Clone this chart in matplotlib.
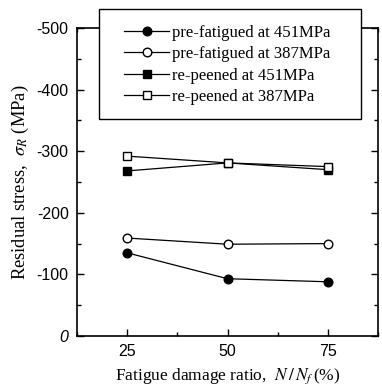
import matplotlib.pyplot as plt
from matplotlib.patches import Rectangle
from matplotlib.ticker import MultipleLocator

plt.rcParams['mathtext.fontset'] = 'stix'

# data
ratio = [25, 50, 75]
pf_451 = [-135, -93, -88]
pf_387 = [-159, -149, -150]
rp_451 = [-268, -281, -270]
rp_387 = [-292, -281, -275]

labels = ['pre-fatigued at 451MPa', 'pre-fatigued at 387MPa',
          're-peened at 451MPa', 're-peened at 387MPa']

fig = plt.figure(figsize=(3.82, 3.92), dpi=100)
ax = fig.add_axes([77 / 382, 1 - 336 / 392, 301 / 382, 308 / 392])

kw = dict(color='black', linewidth=0.9)
ax.plot(ratio, pf_451, marker='o', markersize=6.2, markerfacecolor='black', label=labels[0], **kw)
ax.plot(ratio, pf_387, marker='o', markersize=6.2, markerfacecolor='white', label=labels[1], **kw)
ax.plot(ratio, rp_451, marker='s', markersize=5.4, markerfacecolor='black', label=labels[2], **kw)
ax.plot(ratio, rp_387, marker='s', markersize=5.4, markerfacecolor='white', label=labels[3], **kw)

ax.set_xlim(12.5, 87.5)
ax.set_ylim(0, -500)
ax.set_xticks(ratio)
ax.set_yticks([0, -100, -200, -300, -400, -500])
ax.set_yticklabels(['0', '-100', '-200', '-300', '-400', '-500'])
ax.xaxis.set_minor_locator(MultipleLocator(12.5))
ax.yaxis.set_minor_locator(MultipleLocator(50))
ax.tick_params(which='both', direction='in', top=True, right=True, width=1)
ax.tick_params(which='major', length=5, labelsize=11.5, pad=6)
ax.tick_params(which='minor', length=3)
for lab in ax.get_xticklabels() + ax.get_yticklabels():
    lab.set_family('Liberation Sans')
ax.get_yticklabels()[0].set_style('italic')
for s in ax.spines.values():
    s.set_linewidth(1.2)

ax.set_xlabel('Fatigue damage ratio,  $N\\,/\\,N_f\\,$(%)', family='Liberation Serif',
              fontsize=12.5, labelpad=5)
ax.set_ylabel('Residual stress,  $\\sigma_R$ (MPa)', family='Liberation Serif',
              fontsize=13.3, labelpad=4)

# legend frame sits over the top spine
frame = Rectangle((99 / 382, 1 - 119 / 392), 262 / 382, 110 / 392,
                  transform=fig.transFigure, facecolor='white', edgecolor='black',
                  linewidth=1.0, zorder=4)
fig.patches.append(frame)
leg = fig.legend(loc='upper left', bbox_to_anchor=(124 / 382, 1 - 25 / 392),
                 prop={'family': 'Liberation Serif', 'size': 12}, frameon=False,
                 handlelength=2.7, handletextpad=0.2, labelspacing=0.32,
                 borderpad=0, borderaxespad=0)
leg.set_zorder(5)

fig.savefig('out.png', dpi=100)
